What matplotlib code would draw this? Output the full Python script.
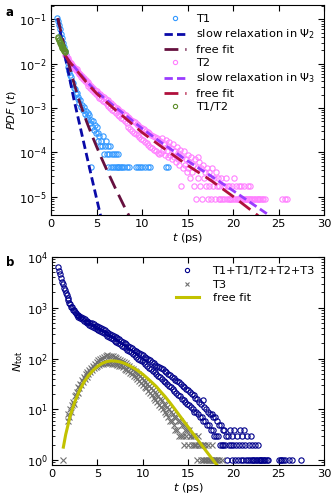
import numpy as np
import matplotlib
matplotlib.use("Agg")
import matplotlib.pyplot as plt

# ---------------- panel a ----------------
# T1: pdf on a 0.1 ps grid, then discrete counts (one count = T1_UNIT)
T1_UNIT = 4.6e-5
t1_head_t = np.round(np.arange(0.7, 3.45, 0.1), 1)
t1_head_pdf = [0.105, 0.090, 0.074, 0.060, 0.047, 0.038, 0.030, 0.024, 0.019,
               0.0155, 0.0125, 0.0102, 0.0083, 0.0069, 0.0056, 0.0049, 0.0039,
               0.0036, 0.0028, 0.0027, 0.0021, 0.0022, 0.0016, 0.0018, 0.0013,
               0.0015, 0.00105, 0.0012]
t1_mid_t = np.round(np.arange(3.5, 8.05, 0.1), 1)
t1_mid_counts = [20, 23, 16, 19, 14, 17, 12, 15, 10, 12, 8, 11, 7, 9, 6, 8, 4,
                 6, 5, 3, 4, 3, 5, 2, 3, 4, 2, 3, 1, 2, 3, 1, 2, 1, 2, 1, 2, 1,
                 1, 2, 1, 0, 1, 1, 0, 1]
t1_single_t = [4.35, 8.3, 8.6, 9.3, 9.5, 9.8, 10.0, 10.3, 10.6, 10.9, 12.6,
               12.8]

# T2: pdf on a 0.1 ps grid, then discrete counts (one count = T2_UNIT)
T2_UNIT = 8.9e-6
t2_head_t = np.round(np.arange(1.5, 11.95, 0.1), 1)
t2_head_pdf = [0.0158, 0.0150, 0.0136, 0.0131, 0.0118, 0.0114, 0.0103, 0.0102,
               0.0092, 0.0091, 0.0082, 0.0082, 0.0073, 0.0074, 0.0065, 0.0066,
               0.0058, 0.0059, 0.0051, 0.0053, 0.0046, 0.0048, 0.0041, 0.0043,
               0.0036, 0.0038, 0.0032, 0.0035, 0.0029, 0.0032, 0.0026, 0.0029,
               0.0023, 0.0026, 0.0021, 0.0024, 0.0019, 0.0022, 0.0017, 0.0021,
               0.0016, 0.0019, 0.00145, 0.0018, 0.00135, 0.00162, 0.00121,
               0.00150, 0.00112, 0.00138, 0.00100, 0.00127, 0.00092, 0.00118,
               0.00085, 0.00108, 0.00077, 0.00100, 0.00071, 0.00093, 0.00066,
               0.00087, 0.00061, 0.00080, 0.00056, 0.00074, 0.00051, 0.00069,
               0.00047, 0.00064, 0.00037, 0.00060, 0.00034, 0.00055, 0.00031,
               0.00051, 0.00028, 0.00048, 0.00026, 0.00044, 0.00025, 0.00041,
               0.00022, 0.00038, 0.00020, 0.00036, 0.00019, 0.00033, 0.00017,
               0.00031, 0.00016, 0.00029, 0.000145, 0.00027, 0.000136, 0.00025,
               0.000123, 0.00024, 0.000115, 0.00022, 0.000106, 0.00021,
               0.000098, 0.00019, 0.000091]
t2_tail_t = np.round(np.arange(12.0, 25.95, 0.1), 1)
t2_tail_counts = [20, 11, 24, 13, 18, 10, 22, 12, 16, 9,
                  19, 10, 14, 8, 17, 9, 12, 7, 15, 8,
                  11, 6, 13, 2, 9, 5, 12, 6, 8, 4,
                  10, 5, 7, 3, 9, 4, 6, 2, 8, 1,
                  5, 9, 3, 7, 2, 5, 1, 6, 3, 4,
                  2, 5, 1, 4, 2, 3, 1, 5, 2, 3,
                  1, 4, 2, 3, 1, 2, 1, 3, 1, 2,
                  1, 2, 3, 1, 2, 1, 2, 1, 1, 2,
                  1, 3, 1, 2, 1, 1, 2, 1, 1, 2,
                  1, 1, 2, 1, 1, 1, 2, 1, 1, 2,
                  1, 1, 0, 1, 1, 0, 1, 1, 0, 1,
                  1, 0, 1, 1, 0, 1, 0, 0, 0, 0,
                  0, 0, 0, 0, 0, 0, 0, 0, 0, 0,
                  0, 0, 0, 0, 1, 0, 0, 1, 0, 1]

# T1/T2
t12_t = [0.75, 0.8, 0.85, 0.9, 0.95, 1.0, 1.05, 1.1, 1.15, 1.2, 1.25, 1.3,
         1.35, 1.4, 1.45, 1.5, 1.55]
t12_pdf = [0.040, 0.037, 0.035, 0.034, 0.031, 0.030, 0.028, 0.027, 0.025,
           0.024, 0.023, 0.022, 0.021, 0.020, 0.0195, 0.019, 0.018]

# fitted curves (t, log10 pdf)
psi2_t = [0.72, 1.0, 1.5, 2.0, 2.5, 3.0, 3.5, 4.0, 4.5, 5.0, 5.5, 5.7]
psi2_log = [-0.98, -1.27, -1.80, -2.30, -2.80, -3.25, -3.70, -4.15, -4.60,
            -5.04, -5.48, -5.65]
fit1_t = [0.75, 1.0, 1.5, 2.0, 2.5, 3.0, 3.5, 4.0, 4.5, 5.0, 5.5, 6.0, 6.5,
          7.0, 7.5, 8.0, 8.5, 8.8]
fit1_log = [-0.97, -1.21, -1.65, -2.05, -2.43, -2.78, -3.08, -3.36, -3.62,
            -3.87, -4.11, -4.34, -4.56, -4.78, -4.99, -5.20, -5.40, -5.52]
psi3_t = [1.5, 2.0, 3.0, 4.0, 5.0, 6.0, 7.0, 8.0, 10.0, 12.0, 15.0, 17.5,
          20.0, 22.0, 24.0, 24.5]
psi3_log = [-1.80, -1.94, -2.18, -2.42, -2.63, -2.80, -2.97, -3.13, -3.46,
            -3.76, -4.19, -4.52, -4.86, -5.14, -5.42, -5.50]
fit2_t = [1.5, 2.0, 3.0, 4.0, 5.0, 6.0, 7.0, 8.0, 10.0, 12.0, 15.0, 17.5,
          20.0, 22.6, 23.5]
fit2_log = [-1.80, -1.95, -2.20, -2.45, -2.67, -2.85, -3.03, -3.20, -3.55,
            -3.85, -4.29, -4.62, -4.99, -5.40, -5.55]

# ---------------- panel b ----------------
tot_t = np.round(np.arange(0.7, 27.55, 0.1), 1)
tot_n = [6450, 5400, 4550, 3920, 3280, 2900, 2490, 2210, 1930, 1760,
         1530, 1430, 1240, 1200, 1050, 1030, 905, 890, 810, 800,
         720, 735, 670, 690, 625, 660, 590, 620, 545, 590,
         520, 560, 495, 530, 460, 505, 440, 490, 420, 470,
         400, 445, 380, 430, 360, 410, 345, 395, 330, 380,
         315, 360, 300, 335, 280, 325, 265, 305, 255, 295,
         240, 280, 225, 262, 212, 250, 205, 238, 190, 225,
         180, 215, 170, 198, 160, 192, 150, 178, 140, 168,
         132, 160, 124, 150, 116, 142, 108, 136, 100, 128,
         95, 122, 88, 115, 84, 108, 77, 102, 72, 98,
         66, 92, 62, 86, 58, 82, 54, 76, 50, 72,
         46, 67, 43, 64, 39, 61, 36, 57, 34, 55,
         31, 50, 29, 47, 27, 44, 25, 41, 23, 38,
         21, 36, 19, 34, 18, 31, 16, 29, 15, 27,
         14, 25, 13, 24, 12, 22, 11, 20, 10, 19,
         9, 17, 9, 16, 8, 14, 7, 13, 7, 15,
         6, 11, 6, 10, 5, 9, 5, 8, 4, 8,
         4, 7, 3, 7, 3, 6, 3, 5, 2, 5,
         2, 4, 2, 4, 2, 3, 1, 3, 2, 4,
         2, 3, 1, 2, 4, 1, 2, 3, 1, 2,
         4, 1, 2, 3, 1, 4, 2, 1, 3, 1,
         2, 1, 3, 1, 2, 1, 1, 2, 1, 1,
         2, 1, 1, 1, 1, 0, 1, 1, 1, 0,
         1, 1, 0, 0, 0, 0, 0, 0, 0, 0,
         0, 0, 0, 1, 0, 1, 1, 0, 1, 0,
         1, 0, 0, 0, 1, 0, 0, 0, 1, 0,
         0, 0, 0, 0, 0, 0, 0, 0, 1]

t3_t = np.round(np.arange(1.2, 18.75, 0.1), 1)
t3_n = [1, 0, 0, 0, 0, 6, 8, 7, 10, 9,
        12, 14, 13, 18, 19, 22, 21, 27, 26, 32,
        30, 38, 35, 43, 40, 49, 44, 55, 50, 60,
        55, 66, 60, 72, 64, 79, 67, 86, 71, 93,
        74, 98, 77, 104, 79, 108, 80, 112, 80, 115,
        81, 113, 80, 114, 79, 110, 78, 106, 77, 104,
        75, 99, 72, 95, 70, 90, 67, 85, 63, 80,
        60, 75, 56, 71, 53, 66, 49, 62, 46, 58,
        43, 54, 39, 50, 36, 46, 33, 42, 30, 38,
        28, 35, 26, 32, 23, 29, 21, 26, 19, 24,
        17, 22, 15, 20, 14, 18, 12, 16, 11, 15,
        10, 13, 9, 12, 8, 11, 7, 10, 6, 9,
        6, 8, 5, 7, 4, 7, 4, 6, 3, 6,
        3, 5, 3, 5, 2, 4, 3, 4, 2, 4,
        3, 3, 2, 3, 2, 3, 2, 2, 1, 3,
        2, 2, 1, 2, 1, 2, 1, 2, 1, 1,
        2, 1, 1, 1, 2, 1, 1, 1, 1, 1,
        1, 0, 1, 0, 0, 1]

fitb_t = [1.24, 1.5, 2.0, 2.5, 3.0, 3.5, 4.0, 4.5, 5.0, 5.5, 6.0, 6.5, 7.0,
          7.5, 8.0, 8.5, 9.0, 9.5, 10.0, 10.5, 11.0, 11.5, 12.0, 12.5, 13.0,
          13.5, 14.0, 15.0, 16.0, 17.0, 18.0, 18.5]
fitb_n = [1.8, 3.2, 7.5, 14, 23, 34, 46, 58, 70, 80, 87, 90, 89, 86, 80, 73,
          65, 57, 49, 41, 34, 28, 22, 17.5, 13.5, 10.3, 7.8, 4.5, 2.6, 1.5,
          0.88, 0.67]


def pos(t, y):
    t = np.asarray(t, dtype=float)
    y = np.asarray(y, dtype=float)
    m = y > 0
    return t[m], y[m]


t1_t = np.concatenate([t1_head_t, t1_mid_t, t1_single_t])
t1_pdf = np.concatenate([t1_head_pdf, np.array(t1_mid_counts) * T1_UNIT,
                         np.ones(len(t1_single_t)) * T1_UNIT])
t2_t = np.concatenate([t2_head_t, t2_tail_t])
t2_pdf = np.concatenate([t2_head_pdf, np.array(t2_tail_counts) * T2_UNIT])

plt.rcParams['font.size'] = 8.2
plt.rcParams['mathtext.default'] = 'it'

fig = plt.figure(figsize=(3.32, 5.0), dpi=100)
ax1 = fig.add_axes([0.154, 0.57, 0.822, 0.42])
ax2 = fig.add_axes([0.157, 0.07, 0.819, 0.416])

ms = 3.8
mew = 0.8
ax1.plot(*pos(t1_t, t1_pdf), 'o', mfc='none', mec='#3399ff', ms=ms, mew=mew,
         label='T1', zorder=2)
ax1.plot(psi2_t, 10.0 ** np.array(psi2_log), '--', color='#0a0aa8', lw=2,
         dashes=(3, 1.5), label=r'slow relaxation in $\mathrm{\Psi_2}$', zorder=3)
ax1.plot(fit1_t, 10.0 ** np.array(fit1_log), '--', color='#66103f', lw=2,
         dashes=(5, 2.5), label='free fit', zorder=3)
ax1.plot(*pos(t2_t, t2_pdf), 'o', mfc='none', mec='#ff80ff', ms=ms, mew=mew,
         label='T2', zorder=2)
ax1.plot(psi3_t, 10.0 ** np.array(psi3_log), '--', color='#9a3cff', lw=2,
         dashes=(3, 1.5), label=r'slow relaxation in $\mathrm{\Psi_3}$', zorder=3)
ax1.plot(fit2_t, 10.0 ** np.array(fit2_log), '--', color='#b0103c', lw=2,
         dashes=(5, 2.5), label='free fit', zorder=3)
ax1.plot(t12_t, t12_pdf, 'o', mfc='none', mec='#5e8e2a', ms=ms, mew=mew,
         label='T1/T2', zorder=4)

ax1.set_yscale('log')
ax1.set_xlim(0, 30)
ax1.set_ylim(3.9e-6, 0.21)
ax1.set_xticks([0, 5, 10, 15, 20, 25, 30])
ax1.set_xlabel('$t$ (ps)', labelpad=1)
ax1.set_ylabel('$PDF$ ($t$)', labelpad=1)
ax1.legend(loc='upper right', frameon=False, fontsize=8.2, numpoints=1,
           handlelength=2.0, handletextpad=0.8, labelspacing=0.3,
           borderaxespad=0.4, markerscale=0.8)

ax2.plot(*pos(tot_t, tot_n), 'o', mfc='none', mec='#00008b', ms=ms, mew=mew,
         label='T1+T1/T2+T2+T3', zorder=2)
ax2.plot(*pos(t3_t, t3_n), 'x', color='#707070', ms=ms, mew=mew,
         label='T3', zorder=3)
ax2.plot(fitb_t, fitb_n, '-', color='#c2c200', lw=2.2, label='free fit',
         zorder=4)
ax2.set_yscale('log')
ax2.set_xlim(0, 30)
ax2.set_ylim(0.8, 1e4)
ax2.set_xticks([0, 5, 10, 15, 20, 25, 30])
ax2.set_xlabel('$t$ (ps)', labelpad=1)
ax2.set_ylabel(r'$N_{\rm tot}$', labelpad=1)
ax2.legend(loc='upper right', frameon=False, fontsize=8.2, numpoints=1,
           handlelength=2.0, handletextpad=1.2, labelspacing=0.3,
           borderaxespad=0.4, markerscale=0.8)

for ax in (ax1, ax2):
    ax.tick_params(which='both', direction='in', top=True, right=True)
    ax.tick_params(which='major', length=4, pad=3)
    ax.tick_params(which='minor', length=2)

fig.text(0.018, 0.968, 'a', fontweight='bold', fontsize=8.5)
fig.text(0.018, 0.468, 'b', fontweight='bold', fontsize=8.5)

fig.savefig('out.png', dpi=100)
